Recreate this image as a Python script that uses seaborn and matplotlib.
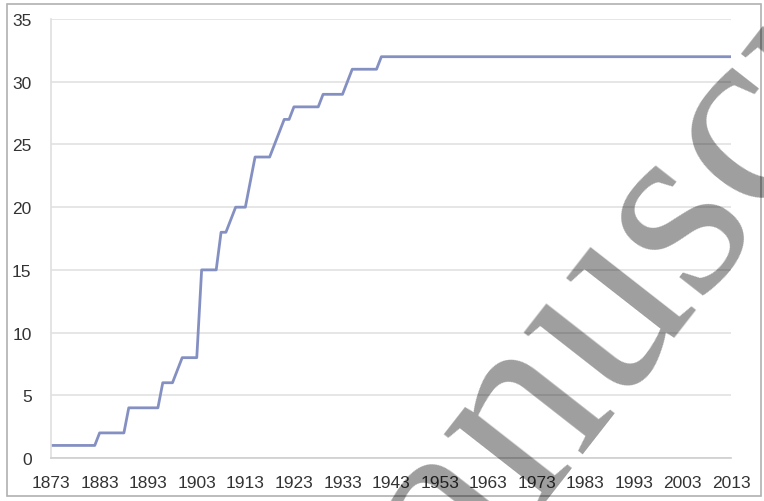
import pandas as pd
import matplotlib.pyplot as plt
import seaborn as sns

# Annual values, 1873-2013
years = list(range(1873, 2014))
values = [
    1, 1, 1, 1, 1, 1, 1, 1, 1, 1,        # 1873-1882
    2, 2, 2, 2, 2, 2,                    # 1883-1888
    4, 4, 4, 4, 4, 4, 4,                 # 1889-1895
    6, 6, 6, 7,                          # 1896-1899
    8, 8, 8, 8,                          # 1900-1903
    15, 15, 15, 15,                      # 1904-1907
    18, 18, 19,                          # 1908-1910
    20, 20, 20,                          # 1911-1913
    22, 24, 24, 24, 24,                  # 1914-1918
    25, 26, 27, 27,                      # 1919-1922
    28, 28, 28, 28, 28, 28,              # 1923-1928
    29, 29, 29, 29, 29,                  # 1929-1933
    30, 31, 31, 31, 31, 31, 31,          # 1934-1940
] + [32] * 73                            # 1941-2013
tick_years = list(range(1873, 2014, 10))
y_ticks = [0, 5, 10, 15, 20, 25, 30, 35]

df = pd.DataFrame({'Year': years, 'Count': values})

sns.set_theme(style="white")
plt.rcParams['font.family'] = ['Liberation Sans', 'DejaVu Sans']

fig = plt.figure(figsize=(7.64, 5.02), dpi=100)
ax = fig.add_axes([0.0668, 0.0857, 0.8902, 0.8743])

sns.lineplot(data=df, x='Year', y='Count', ax=ax, color='#8590c2', linewidth=2.0)

ax.set_xlim(1873, 2013)
ax.set_ylim(0, 35)
ax.set_xticks(tick_years)
ax.set_yticks(y_ticks)
ax.set_xlabel('')
ax.set_ylabel('')
ax.grid(axis='y', color='#e2e2e2', linewidth=1.2)
ax.set_axisbelow(True)
for side in ['top', 'right']:
    ax.spines[side].set_visible(False)
ax.spines['left'].set_color('#e0e0e0')
ax.spines['bottom'].set_color('#d0d0d0')
ax.tick_params(axis='x', length=3, color='#d8d8d8', pad=9, labelsize=12.5, labelcolor='#333333')
ax.tick_params(axis='y', length=0, pad=14, labelsize=12.5, labelcolor='#333333')

# outer frame of the picture
frame = plt.Rectangle((0.009, 0.01), 0.987, 0.981, transform=fig.transFigure,
                      fill=False, edgecolor='#b0b0b0', linewidth=1.2)
fig.add_artist(frame)

# "manuscript" watermark
fig.text(0.44, -0.52, 'manuscript', transform=fig.transFigure, rotation=52,
         rotation_mode='anchor', ha='left', va='baseline', fontsize=190,
         family='Liberation Serif', color='black', alpha=0.38)

fig.savefig('out.png', dpi=100)
